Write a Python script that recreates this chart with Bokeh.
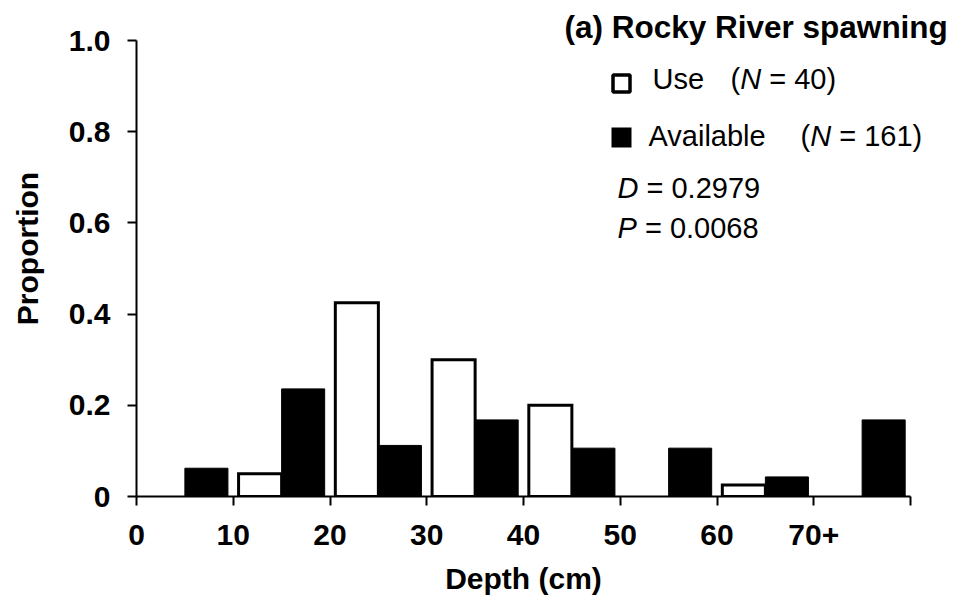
from bokeh.plotting import figure
from bokeh.models import Label, FixedTicker, Range1d, ColumnDataSource, Title
from bokeh.embed import file_html
from bokeh.resources import INLINE

# ---- data ----
bins = [0, 10, 20, 30, 40, 50, 60, 70]
tick_labels = ["0", "10", "20", "30", "40", "50", "60", "70+"]
use = [0.0, 0.05, 0.425, 0.30, 0.20, 0.0, 0.025, 0.0]
available = [0.062, 0.236, 0.112, 0.168, 0.106, 0.106, 0.043, 0.168]
y_ticks = [0, 0.2, 0.4, 0.6, 0.8, 1.0]
y_tick_labels = ["0", "0.2", "0.4", "0.6", "0.8", "1.0"]
title_text = "(a) Rocky River spawning"
x_title = "Depth (cm)"
y_title = "Proportion"
use_n = 40
avail_n = 161
d_stat = "0.2979"
p_stat = "0.0068"

# ---- layout ----
W, H = 956, 613
L, B = 136, 117
AX_R, AX_T = 910, 40          # pixel position of x=80 and y=1.0
FW = AX_R - L
FH = H - B - AX_T
FONT = "Liberation Sans"
BAR_W = 4.45
TICK_F = 30
LEG_F = 29

p = figure(width=W, height=H,
           x_range=Range1d(0, 80 * (W - L) / FW),
           y_range=Range1d(0, (H - B) / FH),
           output_backend="svg", toolbar_location=None,
           min_border_left=L, min_border_right=0, min_border_top=0, min_border_bottom=B)
p.outline_line_color = None
p.grid.visible = False
p.background_fill_color = "white"

use_src = ColumnDataSource(dict(
    x=[b + 5 - BAR_W / 2 for b, v in zip(bins, use) if v > 0],
    top=[v for v in use if v > 0]))
av_src = ColumnDataSource(dict(
    x=[b + 5 + BAR_W / 2 for b, v in zip(bins, available) if v > 0],
    top=[v for v in available if v > 0]))

p.vbar(x="x", top="top", bottom=0, width=BAR_W, source=av_src,
       fill_color="black", line_color="black", line_width=1)
p.vbar(x="x", top="top", bottom=0, width=BAR_W, source=use_src,
       fill_color="white", line_color="black", line_width=3, line_join="miter")

# axes
p.xaxis.ticker = FixedTicker(ticks=bins + [80])
p.xaxis.major_label_overrides = {**{b: t for b, t in zip(bins, tick_labels)}, 80: ""}
p.xaxis.bounds = (0, 80)
p.yaxis.ticker = FixedTicker(ticks=y_ticks)
p.yaxis.major_label_overrides = {v: t for v, t in zip(y_ticks, y_tick_labels)}
p.yaxis.bounds = (0, 1)
for ax in p.axis:
    ax.minor_tick_line_color = None
    ax.major_tick_in = 0
    ax.major_tick_out = 9
    ax.axis_line_width = 2
    ax.axis_line_color = "black"
    ax.major_tick_line_width = 2
    ax.major_tick_line_color = "black"
    ax.major_label_text_font = FONT
    ax.major_label_text_font_style = "bold"
    ax.major_label_text_font_size = "%dpx" % TICK_F
    ax.major_label_text_color = "black"
    ax.axis_label_text_font = FONT
    ax.axis_label_text_font_style = "bold"
    ax.axis_label_text_font_size = "%dpx" % TICK_F
    ax.axis_label_text_color = "black"
p.xaxis.major_label_standoff = 19
p.yaxis.major_label_standoff = 17
p.yaxis.axis_label = y_title
p.yaxis.axis_label_standoff = 22

ARIAL = {" ": 278, "=": 584, "(": 333, ")": 333, ".": 278, "N": 722, "D": 722, "P": 667}
ARIAL_B = {"D": 722, "e": 556, "p": 611, "t": 333, "h": 611, " ": 278, "(": 333,
           "c": 556, "m": 889, ")": 333}

def tw(s, size, table=ARIAL):
    return sum(table.get(c, 556) for c in s) * size / 1000.0

# x-axis title centred under the axis span (0..80), not under the whole frame
x_mid = L + FW / 2
p.add_layout(Title(text=x_title, align="left",
                   offset=x_mid - L - tw(x_title, TICK_F, ARIAL_B) / 2,
                   text_font=FONT, text_font_size="%dpx" % TICK_F,
                   text_font_style="bold", text_color="black", standoff=25), "below")

# annotation helpers (pixel -> data)
def dx(px):
    return (px - L) * 80 / FW

def dy(py):
    return (H - B - py) / FH

def lab(px, py, text, size=LEG_F, style="normal", align="left"):
    p.add_layout(Label(x=dx(px), y=dy(py), text=text, text_font=FONT,
                       text_font_size="%spx" % size, text_font_style=style,
                       text_color="black", text_align=align, text_baseline="middle"))

def run(px, py, parts):
    cur = px
    for text, style in parts:
        if text.strip():
            lead = len(text) - len(text.lstrip(" "))
            lab(cur + tw(" " * lead, LEG_F), py, text.strip(), style=style)
        cur += tw(text, LEG_F)

lab(564, 26, title_text, size=31.5, style="bold")

p.scatter(x=[dx(621)], y=[dy(83)], marker="square", size=17,
          fill_color="white", line_color="black", line_width=3.5)
p.scatter(x=[dx(621)], y=[dy(137)], marker="square", size=20,
          fill_color="black", line_color="black", line_width=0)

lab(652, 78, "Use")
run(730, 78, [("(", "normal"), ("N", "italic"), (" = %d)" % use_n, "normal")])
lab(648, 135, "Available")
run(800, 135, [("(", "normal"), ("N", "italic"), (" = %d)" % avail_n, "normal")])
run(617, 187, [("D", "italic"), (" = " + d_stat, "normal")])
run(617, 227, [("P", "italic"), (" = " + p_stat, "normal")])

open("out.html", "w").write(file_html(p, INLINE))
